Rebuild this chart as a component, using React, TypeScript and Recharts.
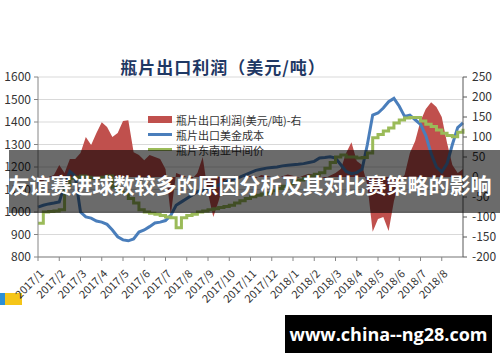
import { ComposedChart, Area, Line, XAxis, YAxis, CartesianGrid } from 'recharts';

// one point per quarter month, 2017/1 .. 2018/9
const monthLabels = [
  '2017/1', '2017/2', '2017/3', '2017/4', '2017/5', '2017/6', '2017/7', '2017/8', '2017/9', '2017/10',
  '2017/11', '2017/12', '2018/1', '2018/2', '2018/3', '2018/4', '2018/5', '2018/6', '2018/7', '2018/8',
];

// 瓶片出口利润 (right axis)
const profitValues = [
  -20, -10, 0, 5, 30, 10, 45, 45, 60, 100, 80, 110, 137, 125, 100, 110, 140, 142, 62, 55,
  42, 55, 50, 45, 20, -95, 10, 5, 0, -5, 10, 50, -40, -100, -60, -10, 0,
  3, -2, 4, 2, -3, 5, 3, 0, -4, 2, 6, 3, -2, 4, 8, 5, 2, -3, 4, 10,
  20, 60, 87, 40, 30, -20, -137, -105, -100, -135, -60, -10, 5, 60, 90, 140, 170, 187, 175, 150,
  85, 30, 10, 20,
];

// 瓶片出口美金成本 (left axis)
const costValues = [
  1022, 1030, 1036, 1040, 1045,
  1120, 1180, 1160, 1000,
  978, 973, 960, 955,
  945, 920, 890, 876,
  872, 880, 911, 920,
  935, 951, 955, 962,
  985, 1030, 1045, 1060,
  1075, 1090, 1095, 1100,
  1110, 1120, 1130, 1140,
  1148, 1155, 1165, 1175,
  1185, 1190, 1195, 1198,
  1200, 1205, 1208, 1210,
  1212, 1215, 1220, 1225,
  1240, 1242, 1245, 1240,
  1210, 1180, 1170, 1175,
  1190, 1300, 1431, 1440,
  1462, 1490, 1505, 1470,
  1425, 1431, 1410, 1390,
  1340, 1260, 1200, 1178,
  1215, 1300, 1375, 1396,
];

// 瓶片东南亚中间价 (left axis)
const seaValues = [
  950, 1000, 1002, 1005, 1010,
  1120, 1150, 1155, 1160,
  1155, 1150, 1150, 1155,
  1160, 1110, 1090, 1085,
  1060, 1040, 1010, 1000,
  995, 990, 985, 978,
  975, 930, 975, 985,
  990, 1000, 1005, 1010,
  1015, 1020, 1025, 1030,
  1040, 1050, 1060, 1068,
  1075, 1080, 1085, 1095,
  1105, 1115, 1125, 1135,
  1142, 1150, 1160, 1168,
  1175, 1195, 1220, 1245,
  1253, 1245, 1244, 1240,
  1242, 1262, 1330, 1345,
  1360, 1373, 1396, 1409,
  1418, 1420, 1420, 1405,
  1390, 1380, 1365, 1350,
  1340, 1335, 1355, 1370,
];

const leftTicks = [800, 900, 1000, 1100, 1200, 1300, 1400, 1500, 1600];
const rightTicks = [-200, -150, -100, -50, 0, 50, 100, 150, 200, 250];

const chartData = profitValues.map((profit, i) => ({
  week: i,
  profit,
  cost: costValues[i],
  sea: seaValues[i],
}));

const monthTicks = monthLabels.map((_, i) => i * 4);

const FONT = '"Noto Sans CJK SC", "Noto Sans", sans-serif';
const RED = '#C0504D';
const BLUE = '#4A7EBB';
const GREEN = '#9BBB59';

function MonthTick({ x, y, payload }: any) {
  const label = monthLabels[Math.round(payload.value / 4)];
  const ax = x + 3;
  const ay = y + 8;
  return (
    <text
      x={ax}
      y={ay}
      transform={`rotate(-45 ${ax} ${ay})`}
      textAnchor='end'
      dominantBaseline='central'
      fontSize={11}
      fill='#333'
    >
      {label}
    </text>
  );
}

function LegendRow({ color, kind, text }: { color: string; kind: 'rect' | 'line'; text: string }) {
  return (
    <div style={{ display: 'flex', alignItems: 'center', height: 15 }}>
      <div
        style={{
          width: 24,
          height: kind === 'rect' ? 7 : 3,
          background: color,
          marginRight: 4,
        }}
      />
      <span style={{ fontSize: 11, color: '#333', whiteSpace: 'nowrap' }}>{text}</span>
    </div>
  );
}

export default function App() {
  return (
    <div
      style={{
        position: 'absolute',
        left: 0,
        top: 0,
        width: 500,
        height: 362,
        background: '#fff',
        overflow: 'hidden',
        fontFamily: FONT,
      }}
    >
      {/* little corner icon under the axis labels */}
      <div style={{ position: 'absolute', left: 0, top: 293, width: 5, height: 12, background: '#2B8FD6' }} />
      <div style={{ position: 'absolute', left: 5, top: 293, width: 17, height: 12, background: '#F5C518' }} />

      <div style={{ position: 'absolute', left: 0, top: 0 }}>
        <ComposedChart width={500} height={362} data={chartData} margin={{ top: 77, right: 0, bottom: 0, left: 0 }}>
          <CartesianGrid yAxisId='left' vertical={false} stroke='#D9D9D9' />
          <XAxis
            dataKey='week'
            type='number'
            domain={[0, 80]}
            ticks={monthTicks}
            height={105}
            tick={<MonthTick />}
            tickSize={4}
            tickMargin={2}
            axisLine={{ stroke: '#868686' }}
            tickLine={{ stroke: '#868686' }}
            interval={0}
          />
          <YAxis
            yAxisId='left'
            domain={[800, 1600]}
            ticks={leftTicks}
            width={38}
            tickSize={4}
            tickMargin={3}
            tick={{ fontSize: 12, fill: '#333' }}
            axisLine={{ stroke: '#868686' }}
            tickLine={{ stroke: '#868686' }}
            interval={0}
          />
          <YAxis
            yAxisId='right'
            orientation='right'
            domain={[-200, 250]}
            ticks={rightTicks}
            width={37}
            tickSize={4}
            tickMargin={5}
            tick={{ fontSize: 12, fill: '#333', textAnchor: 'start' }}
            axisLine={{ stroke: '#595959' }}
            tickLine={{ stroke: '#595959' }}
            interval={0}
          />
          <Area
            yAxisId='right'
            dataKey='profit'
            type='linear'
            baseValue={0}
            stroke='none'
            fill={RED}
            fillOpacity={1}
            isAnimationActive={false}
          />
          <Line
            yAxisId='left'
            dataKey='cost'
            type='linear'
            stroke={BLUE}
            strokeWidth={3}
            dot={false}
            isAnimationActive={false}
          />
          <Line
            yAxisId='left'
            dataKey='sea'
            type='stepAfter'
            stroke={GREEN}
            strokeWidth={3}
            dot={false}
            isAnimationActive={false}
          />
        </ComposedChart>
      </div>

      <div
        style={{
          position: 'absolute',
          left: 0,
          top: 56,
          width: 446,
          textAlign: 'center',
          fontSize: 17,
          fontWeight: 700,
          letterSpacing: 1,
          lineHeight: '22px',
          color: '#1F3864',
        }}
      >
        瓶片出口利润（美元/吨）
      </div>

      <div style={{ position: 'absolute', left: 148, top: 112 }}>
        <LegendRow color={RED} kind='rect' text='瓶片出口利润(美元/吨)-右' />
        <LegendRow color={BLUE} kind='line' text='瓶片出口美金成本' />
        <LegendRow color={GREEN} kind='line' text='瓶片东南亚中间价' />
      </div>

      {/* dark banner across the chart */}
      <div
        style={{
          position: 'absolute',
          left: 9,
          top: 150,
          width: 491,
          height: 63,
          background: 'rgba(0,0,0,0.58)',
        }}
      />
      <div
        style={{
          position: 'absolute',
          left: 0,
          top: 171,
          width: 500,
          textAlign: 'center',
          color: '#fff',
          fontSize: 21,
          fontWeight: 700,
          lineHeight: '26px',
          whiteSpace: 'nowrap',
        }}
      >
        友谊赛进球数较多的原因分析及其对比赛策略的影响
      </div>

      <div
        style={{
          position: 'absolute',
          left: 285,
          top: 315,
          width: 207,
          height: 38,
          background: '#000',
          color: '#fff',
          fontFamily: '"Open Sans", "Noto Sans", sans-serif',
          fontWeight: 700,
          fontSize: 18,
          lineHeight: '38px',
          textAlign: 'center',
        }}
      >
        www.china--ng28.com
      </div>
    </div>
  );
}
